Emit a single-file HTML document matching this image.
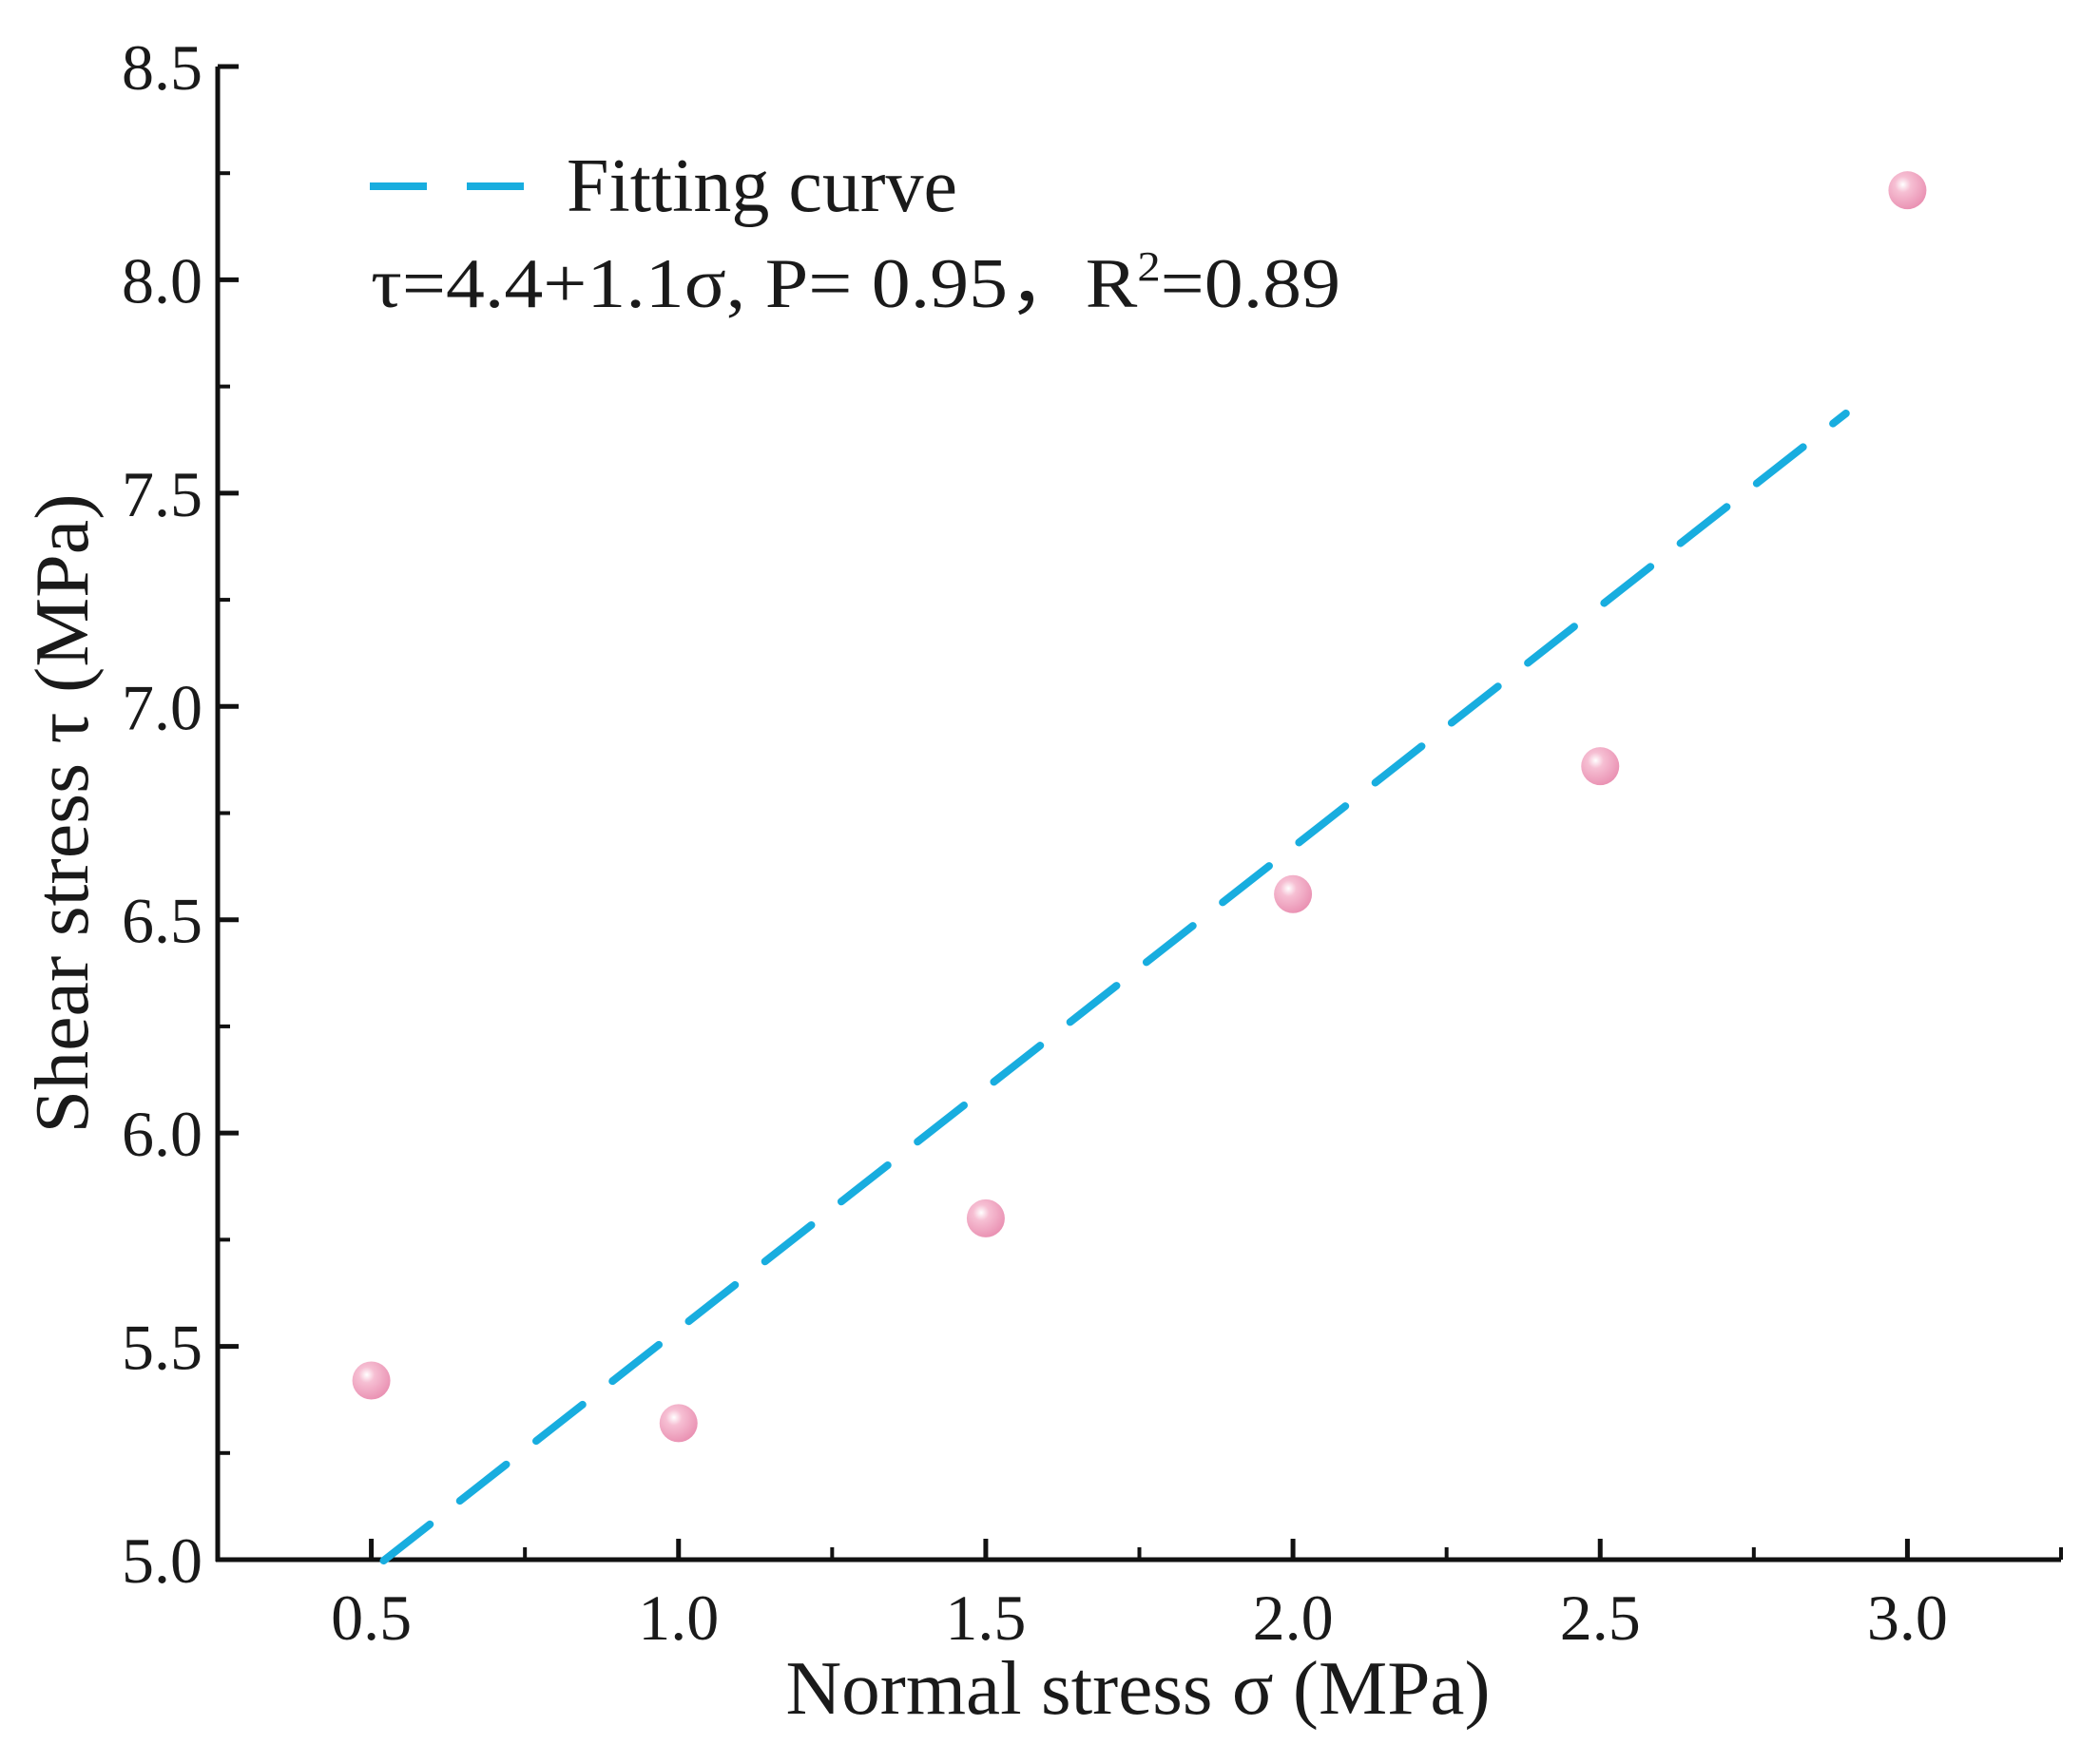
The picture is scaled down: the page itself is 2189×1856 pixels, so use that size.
<!DOCTYPE html>
<html><head><meta charset="utf-8"><style>
html,body{margin:0;padding:0;background:#fff;}
svg{display:block;font-family:"Liberation Serif",serif;}
</style></head><body>
<svg id="chart" width="2189" height="1856" viewBox="0 0 2189 1856" xmlns="http://www.w3.org/2000/svg">
<defs>
<radialGradient id="ball" cx="0.38" cy="0.35" r="0.7">
<stop offset="0" stop-color="#ffffff"/>
<stop offset="0.3" stop-color="#f6bfd3"/>
<stop offset="1" stop-color="#e98fb1"/>
</radialGradient>
</defs>
<g id="axes"></g>
<g id="marks"></g>
<g>
<line x1="389" y1="196" x2="551" y2="196" stroke="#18addf" stroke-width="8" stroke-dasharray="60,42"/>
<text x="596" y="222" font-size="80" textLength="411" lengthAdjust="spacingAndGlyphs" fill="#1a1a1a">Fitting curve</text>
<text x="390" y="323" font-size="74" textLength="1020" lengthAdjust="spacingAndGlyphs" fill="#1a1a1a">τ=4.4+1.1σ, P= 0.95，R<tspan dy="-28" font-size="44">2</tspan><tspan dy="28">=0.89</tspan></text>
</g>
<text transform="translate(92,856) rotate(-90)" text-anchor="middle" font-size="80" textLength="673" lengthAdjust="spacingAndGlyphs" fill="#1a1a1a">Shear stress τ (MPa)</text>
<text x="1197" y="1803" text-anchor="middle" font-size="80" textLength="741" lengthAdjust="spacingAndGlyphs" fill="#1a1a1a">Normal stress σ (MPa)</text>
</svg>
<script>
const xTicks = [0.5, 1.0, 1.5, 2.0, 2.5, 3.0];
const xTickLabels = ["0.5", "1.0", "1.5", "2.0", "2.5", "3.0"];
const yTicks = [5.0, 5.5, 6.0, 6.5, 7.0, 7.5, 8.0, 8.5];
const yTickLabels = ["5.0", "5.5", "6.0", "6.5", "7.0", "7.5", "8.0", "8.5"];
const sigma = [0.5, 1.0, 1.5, 2.0, 2.5, 3.0];
const tau = [5.42, 5.32, 5.80, 6.56, 6.86, 8.21];
const fitIntercept = 4.41;
const fitSlope = 1.13;
const fitRange = [0.52, 2.9];

const L = 229, R = 2168, T = 70, B = 1641;
const xMin = 0.25, xMax = 3.25, yMin = 5.0, yMax = 8.5;
const sx = v => L + (v - xMin) / (xMax - xMin) * (R - L);
const sy = v => B - (v - yMin) / (yMax - yMin) * (B - T);
const NS = "http://www.w3.org/2000/svg";
function mk(tag, attrs, parent) {
  const e = document.createElementNS(NS, tag);
  for (const k in attrs) e.setAttribute(k, attrs[k]);
  parent.appendChild(e);
  return e;
}
const axes = document.getElementById('axes');
const marks = document.getElementById('marks');

let el = mk('line', {x1: L, y1: T, x2: L, y2: B + 2, stroke: '#111', 'stroke-width': 5}, axes);


el = mk('line', {x1: L - 2, y1: B, x2: R, y2: B, stroke: '#111', 'stroke-width': 5}, axes);



yTicks.forEach((v, i) => {
  const y = sy(v);
  const t = mk('line', {x1: L, y1: y, x2: L + 22, y2: y, stroke: '#111', 'stroke-width': 5}, axes);
  
  
  const lb = mk('text', {x: L - 16, y: y + 24, 'text-anchor': 'end', 'font-size': 68, fill: '#1a1a1a'}, axes);
  lb.textContent = yTickLabels[i];
  
  
  if (i < yTicks.length - 1) {
    const ym = sy(v + 0.25);
    const m = mk('line', {x1: L, y1: ym, x2: L + 13, y2: ym, stroke: '#111', 'stroke-width': 4}, axes);
    
    
  }
});
xTicks.forEach((v, i) => {
  const x = sx(v);
  const t = mk('line', {x1: x, y1: B, x2: x, y2: B - 22, stroke: '#111', 'stroke-width': 5}, axes);
  
  
  const lb = mk('text', {x: x, y: B + 84, 'text-anchor': 'middle', 'font-size': 68, fill: '#1a1a1a'}, axes);
  lb.textContent = xTickLabels[i];
  
  
});
[0.25, 0.75, 1.25, 1.75, 2.25, 2.75, 3.25].forEach(v => {
  const x = sx(v);
  const m = mk('line', {x1: x, y1: B, x2: x, y2: B - 13, stroke: '#111', 'stroke-width': 4}, axes);
  
  
});

const fx0 = fitRange[0], fx1 = fitRange[1];
const fit = mk('line', {x1: sx(fx0), y1: sy(fitIntercept + fitSlope * fx0), x2: sx(fx1), y2: sy(fitIntercept + fitSlope * fx1), stroke: '#18addf', 'stroke-width': 8, 'stroke-dasharray': '62,40', 'stroke-linecap': 'round'}, marks);



sigma.forEach((s, i) => {
  const c = mk('circle', {cx: sx(s), cy: sy(tau[i]), r: 20, fill: 'url(#ball)'}, marks);
  
  
});
</script>
</body></html>
